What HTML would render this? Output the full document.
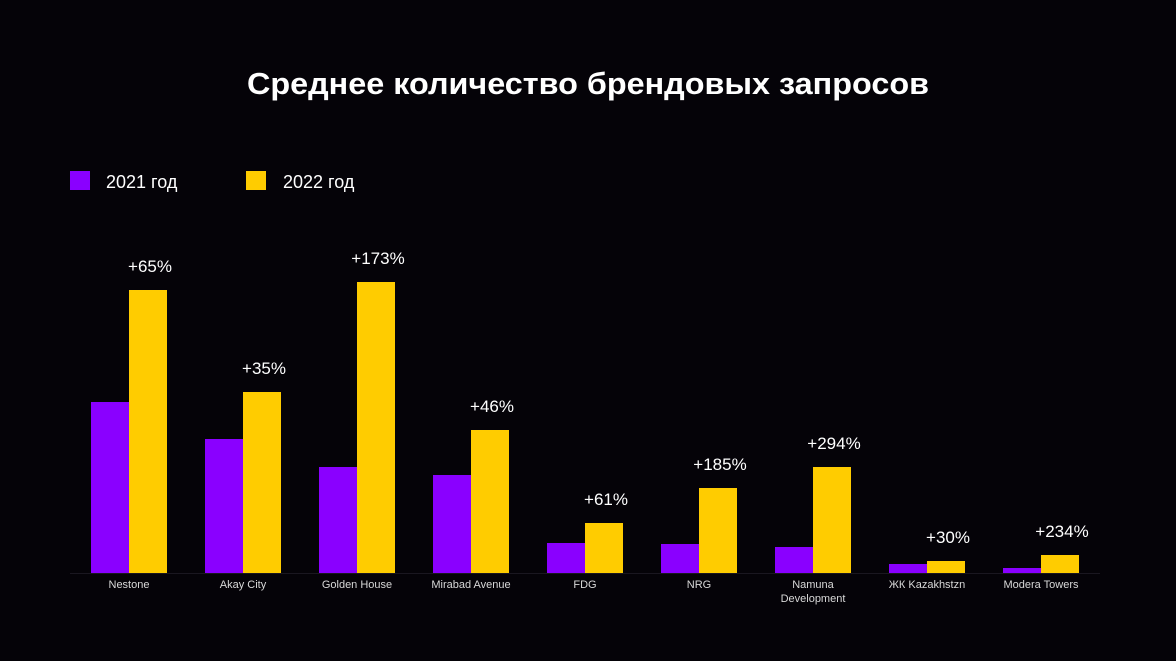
<!DOCTYPE html>
<html><head><meta charset="utf-8"><style>
html,body{margin:0;padding:0;background:#050308;}
svg{display:block;font-family:"Liberation Sans",sans-serif;}
</style></head><body>
<svg id="chart" width="1176" height="661" viewBox="0 0 1176 661">
<rect width="1176" height="661" fill="#050308"/>
<text x="588" y="94" text-anchor="middle" font-size="31" font-weight="bold" fill="#fff" textLength="682" lengthAdjust="spacingAndGlyphs">Среднее количество брендовых запросов</text>
<rect x="70" y="171" width="20" height="19" fill="#8a00ff"/>
<text x="106" y="188" font-size="18" fill="#fff">2021 год</text>
<rect x="246" y="171" width="20" height="19" fill="#ffcc00"/>
<text x="283" y="188" font-size="18" fill="#fff">2022 год</text>
<line x1="70" y1="573.5" x2="1100" y2="573.5" stroke="#1a1720" stroke-width="1"/>
<g id="bars"></g>
</svg>
<script>
const categories=["Nestone","Akay City","Golden House","Mirabad Avenue","FDG","NRG","Namuna|Development","ЖК Kazakhstzn","Modera Towers"];
const values2021=[171,134,106,98,30,29,26,9,5];
const values2022=[283,181,291,143,50,85,106,12,18];
const growthLabels=["+65%","+35%","+173%","+46%","+61%","+185%","+294%","+30%","+234%"];
const NS="http://www.w3.org/2000/svg";
const base=573, x0=129, step=114, bw=38;
const xc=i=>x0+i*step;
const yv=v=>base-v;
const g=document.getElementById('bars');
function mk(t,a){const e=document.createElementNS(NS,t);for(const k in a)e.setAttribute(k,a[k]);g.appendChild(e);return e;}
categories.forEach((c,i)=>{
  const r1=mk('rect',{x:xc(i)-bw,y:yv(values2021[i]),width:bw,height:values2021[i],fill:'#8a00ff'});
  
  
  const r2=mk('rect',{x:xc(i),y:yv(values2022[i]),width:bw,height:values2022[i],fill:'#ffcc00'});
  
  
  const t=mk('text',{x:xc(i)+bw/2+2,y:yv(values2022[i])-18,'text-anchor':'middle','font-size':'17',fill:'#fff'});
  t.textContent=growthLabels[i];
  
  
  c.split('|').forEach((ln,j)=>{
    const l=mk('text',{x:xc(i),y:588+j*14,'text-anchor':'middle','font-size':'11',fill:'#d8d8d8'});
    l.textContent=ln;
    
    
  });
});
</script>
</body></html>
